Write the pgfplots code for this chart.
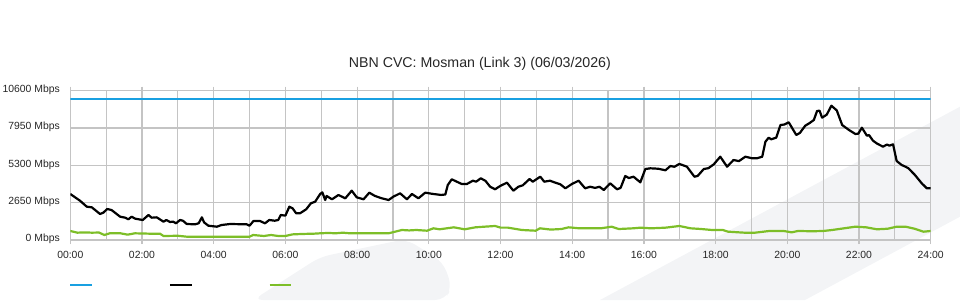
\documentclass[border=0pt]{standalone}
\usepackage{pgfplots}
\pgfplotsset{compat=1.18}
\usepackage{fontspec}
\setmainfont{Liberation Sans}
\definecolor{cvcblue}{RGB}{25,160,225}
\definecolor{cvcgreen}{RGB}{125,190,40}
\definecolor{gridgray}{RGB}{196,196,196}
\definecolor{wm}{RGB}{243,244,246}
\begin{document}
\begin{tikzpicture}[x=1pt,y=1pt]
\path[use as bounding box] (-70.3,-60) rectangle (889.7,240);
\fill[wm] (529.7,-60) -- (889.7,133.3) -- (889.7,23.3) -- (734.7,-60) -- cycle;
\fill[wm,rounded corners=10pt] (182.7,-60) -- (249.7,-17) -- (335.7,1) -- (372.7,-22) -- (381.7,-47) -- (374.7,-60) -- cycle;
\begin{axis}[
  at={(0pt,0pt)}, anchor=south west,
  scale only axis, width=860.4pt, height=149.3pt,
  xmin=0, xmax=24, ymin=0, ymax=10600,
  scaled y ticks=false, scaled x ticks=false,
  xtick={0,2,...,24},
  xticklabels={00:00,02:00,04:00,06:00,08:00,10:00,12:00,14:00,16:00,18:00,20:00,22:00,24:00},
  minor xtick={1,3,...,23},
  ytick={0,2650,5300,7950,10600},
  yticklabels={0 Mbps,2650 Mbps,5300 Mbps,7950 Mbps,10600 Mbps},
  grid=both,
  major grid style={draw=gridgray, line width=1.2pt},
  minor grid style={draw=gridgray, line width=1.2pt},
  axis line style={draw=gridgray, line width=1.2pt},
  xtick align=outside, ytick align=inside,
  major tick length=4pt, minor tick length=0pt,
  xtick style={draw=gridgray, line width=1.2pt},
  ytick style={draw=none},
  tick label style={font=\fontsize{10.4}{12}\selectfont, inner sep=0pt, text=black!85},
  yticklabel style={anchor=east, xshift=-10.3pt, yshift=1pt},
  xticklabel style={anchor=north, yshift=-7pt},
  title={NBN CVC: Mosman (Link 3) (06/03/2026)},
  title style={at={(0.476,1.112)}, anchor=base, font=\fontsize{14.2}{17}\selectfont, inner sep=0pt, text=black!85},
  legend columns=3,
  legend style={at={(-0.0012,-0.3014)}, anchor=west, draw=none, fill=none, inner sep=0pt, outer sep=0pt, nodes={inner sep=0pt}, /tikz/every even column/.append style={column sep=74.8pt}},
  legend image code/.code={\draw[#1] (0pt,0pt) -- (21.7pt,0pt);},
]
\addplot[cvcblue, line width=2pt] coordinates {(0,10000) (24,10000)};
\addlegendentry{}
\addplot[black, line width=2.2pt, line join=round] coordinates {
(0.00,3266) (0.27,2790) (0.46,2365) (0.60,2320) (0.83,1846) (0.92,1940) (1.03,2200) (1.15,2130)
(1.39,1655) (1.53,1585) (1.62,1470) (1.71,1655) (1.81,1515) (2.02,1420) (2.18,1775) (2.27,1585)
(2.41,1610) (2.60,1300) (2.68,1420) (2.78,1280) (2.87,1300) (2.95,1185) (3.06,1420) (3.14,1370)
(3.25,1136) (3.48,1113) (3.58,1185) (3.67,1610) (3.73,1255) (3.85,1015) (4.09,945) (4.22,1065)
(4.46,1136) (4.92,1113) (5.00,1015) (5.11,1350) (5.29,1350) (5.43,1185) (5.55,1420) (5.70,1370)
(5.80,1420) (5.87,1775) (6.00,1730) (6.11,2365) (6.20,2250) (6.30,1895) (6.41,1900) (6.58,2180)
(6.71,2605) (6.83,2720) (6.97,3266) (7.03,3385) (7.11,2840) (7.15,3125) (7.30,2890) (7.48,3195)
(7.67,2960) (7.85,3500) (7.99,3030) (8.18,2890) (8.34,3360) (8.50,3125) (8.69,2960) (8.88,2840)
(9.01,3075) (9.20,3315) (9.39,2890) (9.53,3265) (9.71,2960) (9.90,3360) (10.13,3265) (10.34,3200)
(10.46,3230) (10.53,3905) (10.64,4310) (10.78,4140) (10.92,3975) (11.06,3975) (11.23,4210) (11.32,4140)
(11.45,4380) (11.58,4200) (11.71,3785) (11.85,3600) (11.99,3835) (12.18,4070) (12.36,3500) (12.50,3785)
(12.62,3880) (12.81,4330) (12.90,4140) (13.11,4495) (13.22,4140) (13.38,4210) (13.53,4070) (13.67,3950)
(13.81,3670) (13.99,3975) (14.18,4210) (14.36,3670) (14.50,3780) (14.64,3700) (14.76,3780) (14.88,3550)
(15.06,4025) (15.25,3600) (15.35,3700) (15.48,4545) (15.58,4400) (15.71,4495) (15.90,4095) (16.04,5040)
(16.18,5090) (16.40,5060) (16.60,4950) (16.74,5255) (16.85,5200) (16.99,5400) (17.20,5205) (17.41,4495)
(17.50,4550) (17.67,5040) (17.80,5100) (17.95,5375) (18.13,5915) (18.32,5205) (18.50,5680) (18.65,5600)
(18.83,5915) (19.02,5800) (19.15,5800) (19.30,5915) (19.39,6980) (19.48,7265) (19.55,7150) (19.69,7265)
(19.81,8165) (19.92,8200) (20.04,8355) (20.25,7455) (20.35,7600) (20.50,8115) (20.62,8300) (20.74,8520)
(20.83,9160) (20.90,9180) (20.97,8685) (21.10,8900) (21.23,9535) (21.38,9200) (21.53,8165) (21.72,7810)
(21.90,7525) (21.98,7550) (22.08,7975) (22.22,7405) (22.28,7450) (22.39,7050) (22.50,6850) (22.67,6625)
(22.78,6780) (22.85,6700) (22.95,6795) (23.05,5610) (23.19,5325) (23.30,5200) (23.38,5090) (23.56,4615)
(23.75,4025) (23.89,3670) (24.00,3670)
};
\addlegendentry{}
\addplot[cvcgreen, line width=2.2pt, line join=round] coordinates {
(0,640) (0.2,520) (0.4,540) (0.6,520) (0.8,530) (0.95,355) (1.1,475) (1.4,475) (1.6,380) (1.8,475)
(2.2,450) (2.5,450) (2.6,285) (3.0,300) (3.25,235) (4.0,235) (5.0,235) (5.1,355) (5.4,285) (5.6,355)
(5.8,285) (6.0,285) (6.2,400) (6.5,430) (6.8,450) (6.97,475) (7.2,500) (7.4,475) (7.6,520) (7.8,475)
(8.88,475) (9.06,590) (9.25,710) (9.45,680) (9.65,710) (9.95,660) (10.13,830) (10.3,760) (10.5,830)
(10.7,900) (11.0,760) (11.3,900) (11.55,945) (11.85,995) (12.0,880) (12.2,880) (12.6,710) (12.98,660)
(13.1,830) (13.4,740) (13.7,780) (13.9,900) (14.2,830) (14.5,830) (14.8,830) (15.1,945) (15.3,780)
(15.7,830) (15.9,875) (16.2,830) (16.6,875) (16.99,995) (17.3,830) (17.6,780) (17.9,710) (18.2,710)
(18.35,590) (18.8,520) (19.1,520) (19.5,640) (19.9,640) (20.12,545) (20.3,640) (20.7,620) (21.0,640)
(21.25,710) (21.5,800) (21.9,945) (22.2,900) (22.5,760) (22.8,800) (23.05,945) (23.3,945) (23.55,800)
(23.8,590) (24.0,640)
};
\addlegendentry{}
\end{axis}
\end{tikzpicture}
\end{document}
